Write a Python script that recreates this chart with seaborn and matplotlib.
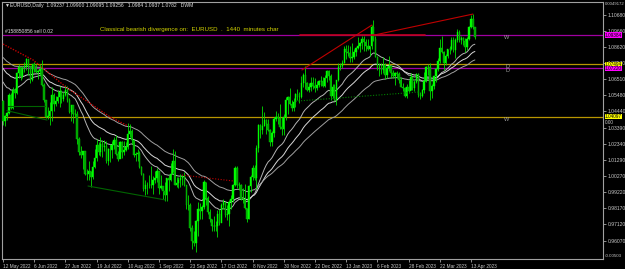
import numpy as np
import pandas as pd
import matplotlib
matplotlib.use("Agg")
import matplotlib.pyplot as plt
import matplotlib.transforms as mtransforms
import seaborn as sns

# ---------------- data (EURUSD daily, 12 May 2022 - 17 Apr 2023) ----------------
closes = [
    1.0380, 1.0411, 1.0436, 1.0553, 1.0465, 1.0585, 1.0563, 1.0690, 1.0733, 1.0675, 1.0725, 1.0732, 1.0780, 1.0733,
    1.0648, 1.0750, 1.0719, 1.0697, 1.0705, 1.0717, 1.0616, 1.0519, 1.0409, 1.0414, 1.0445, 1.0548, 1.0495, 1.0512, 1.0535, 1.0567, 1.0521, 1.0553, 1.0583, 1.0518, 1.0443, 1.0484,
    1.0425, 1.0425, 1.0265, 1.0183, 1.0160, 1.0185, 1.0040, 1.0037, 1.0060, 1.0018, 1.0085, 1.0143, 1.0226, 1.0180, 1.0230, 1.0212, 1.0223, 1.0120, 1.0198, 1.0197, 1.0225,
    1.0260, 1.0167, 1.0138, 1.0245, 1.0182, 1.0196, 1.0212, 1.0298, 1.0320, 1.0258, 1.0160, 1.0170, 1.0177, 1.0086, 1.0040, 0.9943, 0.9967, 0.9970, 0.9967, 0.9966, 1.0002, 1.0015, 1.0055,
    0.9945, 0.9958, 0.9928, 0.9900, 1.0010, 1.0000, 1.0040, 1.0120, 0.9970, 0.9980, 0.9998, 1.0015, 1.0027, 0.9970, 0.9840, 0.9838, 0.9690, 0.9605, 0.9590, 0.9735, 0.9815, 0.9802,
    0.9825, 0.9988, 0.9885, 0.9790, 0.9745, 0.9700, 0.9705, 0.9705, 0.9780, 0.9720, 0.9840, 0.9855, 0.9775, 0.9780, 0.9860, 0.9880, 0.9965, 1.0080, 0.9965, 0.9965, 0.9880,
    0.9875, 0.9820, 0.9750, 0.9960, 1.0020, 1.0075, 1.0015, 1.0205, 1.0355, 1.0325, 1.0350, 1.0390, 1.0365, 1.0325, 1.0245, 1.0305, 1.0395, 1.0410, 1.0398, 1.0340, 1.0330, 1.0405,
    1.0520, 1.0535, 1.0490, 1.0465, 1.0505, 1.0555, 1.0535, 1.0535, 1.0630, 1.0680, 1.0625, 1.0585, 1.0605, 1.0625, 1.0610, 1.0595, 1.0615, 1.0640, 1.0640, 1.0610, 1.0660, 1.0705,
    1.0670, 1.0545, 1.0605, 1.0520, 1.0645, 1.0730, 1.0735, 1.0760, 1.0850, 1.0830, 1.0820, 1.0790, 1.0795, 1.0830, 1.0855, 1.0870, 1.0885, 1.0915, 1.0890, 1.0870, 1.0845, 1.0865,
    1.0990, 1.0910, 1.0795, 1.0725, 1.0725, 1.0715, 1.0745, 1.0680, 1.0725, 1.0740, 1.0690, 1.0675, 1.0695, 1.0685, 1.0650, 1.0605, 1.0595, 1.0545, 1.0605, 1.0575,
    1.0665, 1.0595, 1.0635, 1.0685, 1.0550, 1.0545, 1.0580, 1.0640, 1.0730, 1.0730, 1.0575, 1.0610, 1.0670, 1.0720, 1.0770, 1.0855, 1.0830, 1.0760, 1.0800, 1.0845, 1.0845, 1.0905, 1.0840,
    1.0905, 1.0955, 1.0905, 1.0920, 1.0900, 1.0860, 1.0910, 1.0990, 1.1045, 1.0990, 1.0925,
]
opens = [
    1.0512, 1.0380, 1.0411, 1.0436, 1.0553, 1.0465, 1.0585, 1.0563, 1.0690, 1.0733, 1.0675, 1.0725, 1.0732, 1.0780,
    1.0733, 1.0648, 1.0750, 1.0719, 1.0697, 1.0705, 1.0717, 1.0616, 1.0519, 1.0409, 1.0414, 1.0445, 1.0548, 1.0495, 1.0512, 1.0535, 1.0567, 1.0521, 1.0553, 1.0583, 1.0518, 1.0443,
    1.0484, 1.0425, 1.0425, 1.0265, 1.0183, 1.0160, 1.0185, 1.0040, 1.0037, 1.0060, 1.0018, 1.0085, 1.0143, 1.0226, 1.0180, 1.0230, 1.0212, 1.0223, 1.0120, 1.0198, 1.0197,
    1.0225, 1.0260, 1.0167, 1.0138, 1.0245, 1.0182, 1.0196, 1.0212, 1.0298, 1.0320, 1.0258, 1.0160, 1.0170, 1.0177, 1.0086, 1.0040, 0.9943, 0.9967, 0.9970, 0.9967, 0.9966, 1.0002, 1.0015,
    1.0055, 0.9945, 0.9958, 0.9928, 0.9900, 1.0010, 1.0000, 1.0040, 1.0120, 0.9970, 0.9980, 0.9998, 1.0015, 1.0027, 0.9970, 0.9840, 0.9838, 0.9690, 0.9605, 0.9590, 0.9735, 0.9815,
    0.9802, 0.9825, 0.9988, 0.9885, 0.9790, 0.9745, 0.9700, 0.9705, 0.9705, 0.9780, 0.9720, 0.9840, 0.9855, 0.9775, 0.9780, 0.9860, 0.9880, 0.9965, 1.0080, 0.9965, 0.9965,
    0.9880, 0.9875, 0.9820, 0.9750, 0.9960, 1.0020, 1.0075, 1.0015, 1.0205, 1.0355, 1.0325, 1.0350, 1.0390, 1.0365, 1.0325, 1.0245, 1.0305, 1.0395, 1.0410, 1.0398, 1.0340, 1.0330,
    1.0405, 1.0520, 1.0535, 1.0490, 1.0465, 1.0505, 1.0555, 1.0535, 1.0535, 1.0630, 1.0680, 1.0625, 1.0585, 1.0605, 1.0625, 1.0610, 1.0595, 1.0615, 1.0640, 1.0640, 1.0610, 1.0660,
    1.0705, 1.0670, 1.0545, 1.0605, 1.0520, 1.0645, 1.0730, 1.0735, 1.0760, 1.0850, 1.0830, 1.0820, 1.0790, 1.0795, 1.0830, 1.0855, 1.0870, 1.0885, 1.0915, 1.0890, 1.0870, 1.0845,
    1.0865, 1.0990, 1.0910, 1.0795, 1.0725, 1.0725, 1.0715, 1.0745, 1.0680, 1.0725, 1.0740, 1.0690, 1.0675, 1.0695, 1.0685, 1.0650, 1.0605, 1.0595, 1.0545, 1.0605,
    1.0575, 1.0665, 1.0595, 1.0635, 1.0685, 1.0550, 1.0545, 1.0580, 1.0640, 1.0730, 1.0730, 1.0575, 1.0610, 1.0670, 1.0720, 1.0770, 1.0855, 1.0830, 1.0760, 1.0800, 1.0845, 1.0845, 1.0905,
    1.0840, 1.0905, 1.0955, 1.0905, 1.0920, 1.0900, 1.0860, 1.0910, 1.0990, 1.1045, 1.0990,
]
highs = [
    1.0520, 1.0420, 1.0440, 1.0564, 1.0565, 1.0605, 1.0595, 1.0697, 1.0748, 1.0730, 1.0735, 1.0765, 1.0787, 1.0780,
    1.0736, 1.0753, 1.0764, 1.0750, 1.0710, 1.0749, 1.0774, 1.0630, 1.0520, 1.0470, 1.0506, 1.0601, 1.0566, 1.0544, 1.0583, 1.0606, 1.0580, 1.0570, 1.0614, 1.0606, 1.0530, 1.0487,
    1.0486, 1.0462, 1.0448, 1.0275, 1.0220, 1.0187, 1.0165, 1.0070, 1.0122, 1.0060, 1.0120, 1.0200, 1.0268, 1.0245, 1.0278, 1.0257, 1.0258, 1.0250, 1.0210, 1.0235, 1.0255,
    1.0275, 1.0294, 1.0190, 1.0254, 1.0250, 1.0250, 1.0248, 1.0368, 1.0365, 1.0330, 1.0260, 1.0180, 1.0202, 1.0190, 1.0090, 1.0045, 0.9998, 0.9989, 1.0030, 1.0090, 1.0025, 1.0055, 1.0080,
    1.0060, 1.0033, 0.9930, 0.9990, 1.0010, 1.0030, 1.0113, 1.0198, 1.0187, 1.0020, 1.0018, 1.0036, 1.0030, 1.0050, 0.9970, 0.9900, 0.9852, 0.9710, 0.9670, 0.9740, 0.9855, 0.9854,
    0.9840, 0.9999, 0.9990, 0.9895, 0.9810, 0.9750, 0.9765, 0.9735, 0.9807, 0.9810, 0.9850, 0.9875, 0.9860, 0.9840, 0.9870, 0.9900, 0.9975, 1.0093, 1.0090, 0.9990, 0.9975,
    0.9950, 0.9976, 0.9820, 0.9965, 1.0030, 1.0095, 1.0095, 1.0225, 1.0365, 1.0365, 1.0480, 1.0440, 1.0395, 1.0397, 1.0330, 1.0315, 1.0405, 1.0448, 1.0435, 1.0495, 1.0405, 1.0430,
    1.0535, 1.0545, 1.0595, 1.0515, 1.0530, 1.0565, 1.0590, 1.0570, 1.0673, 1.0695, 1.0737, 1.0635, 1.0630, 1.0665, 1.0665, 1.0660, 1.0640, 1.0645, 1.0670, 1.0665, 1.0680, 1.0715,
    1.0710, 1.0685, 1.0620, 1.0620, 1.0650, 1.0760, 1.0760, 1.0775, 1.0865, 1.0875, 1.0875, 1.0870, 1.0887, 1.0850, 1.0860, 1.0925, 1.0890, 1.0930, 1.0930, 1.0915, 1.0915, 1.0870,
    1.1000, 1.1033, 1.0930, 1.0805, 1.0755, 1.0755, 1.0795, 1.0760, 1.0735, 1.0805, 1.0745, 1.0715, 1.0700, 1.0705, 1.0700, 1.0665, 1.0625, 1.0600, 1.0620, 1.0645,
    1.0690, 1.0665, 1.0645, 1.0695, 1.0695, 1.0570, 1.0590, 1.0700, 1.0735, 1.0750, 1.0760, 1.0620, 1.0675, 1.0725, 1.0790, 1.0910, 1.0930, 1.0835, 1.0815, 1.0850, 1.0870, 1.0925, 1.0925,
    1.0920, 1.0975, 1.0970, 1.0935, 1.0925, 1.0920, 1.0925, 1.0995, 1.1065, 1.1075, 1.0990,
]
lows = [
    1.0354, 1.0350, 1.0390, 1.0426, 1.0460, 1.0462, 1.0530, 1.0555, 1.0662, 1.0645, 1.0660, 1.0700, 1.0715, 1.0680,
    1.0627, 1.0643, 1.0700, 1.0690, 1.0653, 1.0680, 1.0608, 1.0505, 1.0398, 1.0397, 1.0359, 1.0381, 1.0445, 1.0480, 1.0500, 1.0470, 1.0497, 1.0510, 1.0542, 1.0505, 1.0435, 1.0382,
    1.0366, 1.0410, 1.0235, 1.0162, 1.0145, 1.0072, 1.0035, 1.0000, 0.9998, 0.9952, 1.0005, 1.0080, 1.0124, 1.0160, 1.0153, 1.0150, 1.0185, 1.0110, 1.0100, 1.0114, 1.0145,
    1.0200, 1.0160, 1.0122, 1.0142, 1.0141, 1.0162, 1.0188, 1.0198, 1.0275, 1.0230, 1.0150, 1.0120, 1.0122, 1.0080, 1.0030, 0.9926, 0.9900, 0.9910, 0.9945, 0.9950, 0.9910, 0.9980, 0.9990,
    0.9910, 0.9940, 0.9876, 0.9865, 0.9864, 0.9930, 0.9995, 1.0050, 0.9966, 0.9955, 0.9950, 0.9955, 0.9965, 0.9960, 0.9810, 0.9808, 0.9670, 0.9553, 0.9570, 0.9535, 0.9635, 0.9750,
    0.9750, 0.9810, 0.9836, 0.9780, 0.9730, 0.9670, 0.9670, 0.9670, 0.9632, 0.9710, 0.9730, 0.9810, 0.9760, 0.9740, 0.9705, 0.9810, 0.9860, 0.9960, 0.9950, 0.9935, 0.9870,
    0.9850, 0.9810, 0.9730, 0.9750, 0.9925, 1.0000, 1.0000, 0.9940, 1.0180, 1.0270, 1.0300, 1.0350, 1.0300, 1.0320, 1.0223, 1.0220, 1.0280, 1.0385, 1.0360, 1.0330, 1.0290, 1.0290,
    1.0390, 1.0425, 1.0485, 1.0445, 1.0445, 1.0475, 1.0520, 1.0500, 1.0530, 1.0600, 1.0590, 1.0575, 1.0570, 1.0575, 1.0590, 1.0570, 1.0585, 1.0600, 1.0610, 1.0600, 1.0600, 1.0635,
    1.0650, 1.0520, 1.0530, 1.0510, 1.0483, 1.0640, 1.0710, 1.0725, 1.0760, 1.0780, 1.0805, 1.0765, 1.0765, 1.0780, 1.0800, 1.0850, 1.0830, 1.0850, 1.0835, 1.0835, 1.0840, 1.0800,
    1.0850, 1.0900, 1.0795, 1.0710, 1.0670, 1.0685, 1.0695, 1.0655, 1.0660, 1.0705, 1.0660, 1.0660, 1.0615, 1.0660, 1.0630, 1.0600, 1.0575, 1.0535, 1.0530, 1.0565,
    1.0580, 1.0580, 1.0575, 1.0625, 1.0540, 1.0525, 1.0535, 1.0565, 1.0635, 1.0680, 1.0515, 1.0530, 1.0590, 1.0635, 1.0705, 1.0760, 1.0825, 1.0715, 1.0745, 1.0790, 1.0815, 1.0840, 1.0830,
    1.0790, 1.0895, 1.0895, 1.0880, 1.0875, 1.0830, 1.0840, 1.0905, 1.0985, 1.0975, 1.0910,
]

# moving averages: periods and their starting values read at the left edge
ma_periods = [21, 34, 55]
ma_seeds = [1.0660, 1.0744, 1.0809]
ma_colors = ["#b4b4b4", "#d8d8d8", "#a0a0a0"]

# x-axis labels every 16 bars
xtick_labels = ["12 May 2022", "6 Jun 2022", "27 Jun 2022", "19 Jul 2022", "10 Aug 2022",
                "1 Sep 2022", "23 Sep 2022", "17 Oct 2022", "8 Nov 2022", "30 Nov 2022",
                "22 Dec 2022", "13 Jan 2023", "6 Feb 2023", "28 Feb 2023", "22 Mar 2023",
                "13 Apr 2023"]
xtick_step = 16

# price scale labels
ytick_values = [1.10680, 1.09660, 1.08620, 1.07570, 1.06510, 1.05480, 1.04440, 1.03390,
                1.02340, 1.01290, 1.00270, 0.99220, 0.98170, 0.97120, 0.96070]

# horizontal levels (price, colour, label box colour)
level_prices = [1.09384, 1.07494, 1.07220, 1.04097]
level_colors = ["#a000a0", "#b89600", "#a000a0", "#b89600"]
level_box_colors = ["#ff00ff", "#ffff00", "#ff00ff", "#ffff00"]
level_tags = ["W", "D", "D", "W"]

# indicator lines (bar index, price)
red_dot1_idx = [0, 15.4, 32.8, 43.6, 54.9, 64.1]
red_dot1_px = [1.0880, 1.0777, 1.0596, 1.0505, 1.0408, 1.0350]
red_dot2_idx = [91.8, 117.9]
red_dot2_px = [1.0032, 0.9994]
red_a_idx = [153.3, 189.2]
red_a_px = [1.0712, 1.1003]
red_b_idx = [189.2, 241.0]
red_b_px = [1.0935, 1.1074]
red_h_idx = [152.3, 216.4]
red_h_px = [1.0936, 1.0936]
green_h_idx = [2.6, 21.5]
green_h_px = [1.0479, 1.0479]
green_d_idx = [2.0, 22.6]
green_d_px = [1.0449, 1.0388]
green_e_idx = [43.6, 83.1]
green_e_px = [0.9961, 0.9871]
green_dot_idx = [150.0, 214.0]
green_dot_px = [1.0510, 1.0570]

# ---------------- figure ----------------
sns.set_theme(style="dark")
plt.rcParams['font.family'] = ['Liberation Sans', 'DejaVu Sans']

W, H = 625, 269
fig = plt.figure(figsize=(W / 100, H / 100), dpi=100, facecolor="black")
ax = fig.add_axes([2 / W, 1 - 259 / H, (603 - 2) / W, (259 - 2) / H])
ax.set_facecolor("black")
ax.grid(False)

df = pd.DataFrame({"open": opens, "high": highs, "low": lows, "close": closes})
df["x"] = np.arange(len(df))
up = df["close"] >= df["open"]

ax.vlines(df["x"], df["low"], df["high"], color="#00e000", lw=0.6, zorder=3)
body_bottom = np.minimum(df["open"], df["close"])
body_h = np.abs(df["close"] - df["open"])
ax.bar(df["x"][up], body_h[up], bottom=body_bottom[up], width=0.7, color="#00ff00",
       edgecolor="#00ff00", linewidth=0.3, zorder=4)
ax.bar(df["x"][~up], body_h[~up], bottom=body_bottom[~up], width=0.7, color="#00a000",
       edgecolor="#00d000", linewidth=0.3, zorder=4)

# moving averages
for per, seed, col in zip(ma_periods, ma_seeds, ma_colors):
    a = 2.0 / (per + 1)
    vals = []
    prev = seed
    for c in closes:
        prev = prev + a * (c - prev)
        vals.append(prev)
    sns.lineplot(x=df["x"], y=vals, ax=ax, color=col, lw=0.7, zorder=2)

# levels
trans = mtransforms.blended_transform_factory(ax.transAxes, ax.transData)
for p, c, bc, tag in zip(level_prices, level_colors, level_box_colors, level_tags):
    ax.axhline(p, color=c, lw=0.9, zorder=1)
    ax.text(1.003, p, f"{p:.5f}", transform=trans, fontsize=3.4, color="black", va="center",
            ha="left", clip_on=False,
            bbox=dict(facecolor=bc, edgecolor="none", pad=0.15), zorder=10)
    ax.text(258.5, p, tag, fontsize=4.0, color="#a0a0a0", va="top", ha="center", zorder=6)

# indicator lines
ax.plot(red_dot1_idx, red_dot1_px, color="#c00000", lw=1.0, ls=(0, (1, 1)), zorder=5)
ax.plot(red_dot2_idx, red_dot2_px, color="#c00000", lw=0.8, ls=(0, (1, 1.5)), zorder=5)
ax.plot(red_a_idx, red_a_px, color="#c00000", lw=0.8, zorder=5)
ax.plot(red_b_idx, red_b_px, color="#c00000", lw=0.8, zorder=5)
ax.plot(red_h_idx, red_h_px, color="#c00020", lw=1.2, zorder=5)
ax.plot(green_h_idx, green_h_px, color="#006400", lw=0.8, zorder=5)
ax.plot(green_d_idx, green_d_px, color="#006400", lw=0.8, zorder=5)
ax.plot(green_e_idx, green_e_px, color="#006400", lw=0.8, zorder=5)
ax.plot(green_dot_idx, green_dot_px, color="#008000", lw=0.8, ls=(0, (1, 1.5)), zorder=5)

# axes
ax.set_xlim(-0.5, 307.7)
ax.set_ylim(0.94885, 1.11521)
ax.yaxis.tick_right()
ax.set_yticks(ytick_values)
ax.set_yticklabels([f"{v:.5f}" for v in ytick_values])
ax.set_xticks(np.arange(len(xtick_labels)) * xtick_step)
ax.set_xticklabels(xtick_labels, ha="left")
ax.tick_params(axis="y", colors="#c8c8c8", labelsize=3.6, length=2, width=0.5, pad=1.2,
               right=True, direction="out")
ax.tick_params(axis="x", colors="#c8c8c8", labelsize=3.4, length=2.5, width=0.5, pad=1,
               bottom=True, direction="out")
for s in ax.spines.values():
    s.set_color("#a0a0a0")
    s.set_linewidth(0.8)
ax.set_xlabel("")
ax.set_ylabel("")

# texts
fig.text(5 / W, 1 - 6 / H, "\u25bcEURUSD,Daily  1.09237 1.09900 1.09095 1.09256   1.0984 1.0937 1.0782   DWM",
         fontsize=3.6, color="#e0e0e0", va="center", ha="left")
fig.text(5 / W, 1 - 32 / H, "#158850856 sell 0.02", fontsize=3.6, color="#e0e0e0",
         va="center", ha="left")
fig.text(100 / W, 1 - 30 / H, "Classical bearish divergence on:  EURUSD  .  1440  minutes char",
         fontsize=4.4, color="#d4d400", va="center", ha="left")
fig.text(605 / W, 1 - 4 / H, "0.0049172", fontsize=3.1, color="#c8c8c8", va="center", ha="left")
fig.text(605 / W, 1 - 123 / H, "0.00", fontsize=3.4, color="#c8c8c8", va="center", ha="left")
fig.text(605 / W, 1 - 256 / H, "-0.00503", fontsize=3.2, color="#c8c8c8", va="center", ha="left")

fig.savefig("out.png", dpi=100, facecolor="black")
